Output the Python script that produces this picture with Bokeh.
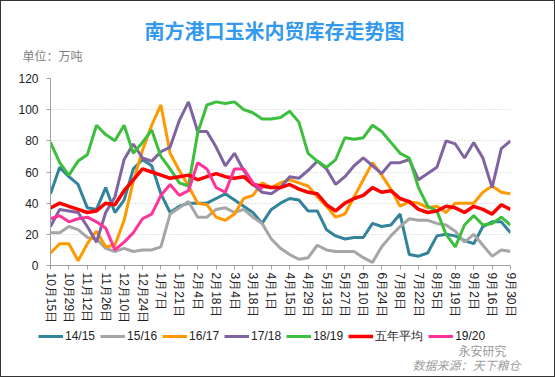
import math
from bokeh.plotting import figure
from bokeh.layouts import column
from bokeh.models import Range1d, FixedTicker, Legend, LegendItem, Label
from bokeh.embed import file_html
from bokeh.resources import INLINE

# ---- data ----
tick_labels = ["10月15日", "10月29日", "11月12日", "11月26日", "12月10日", "12月24日",
               "1月7日", "1月21日", "2月4日", "2月18日", "3月4日", "3月18日", "4月1日",
               "4月15日", "4月29日", "5月13日", "5月27日", "6月10日", "6月24日", "7月8日",
               "7月22日", "8月5日", "8月19日", "9月2日", "9月16日", "9月30日"]
tick_days = list(range(0, 351, 14))
days = list(range(0, 351, 7))   # weekly readings, day offset from 10月15日

s_1415 = [46, 63, 57, 52, 37, 36, 50, 34, 42, 62, 68, 64, 46, 34, 38, 40, 40, 40, 43, 46,
          42, 38, 34, 27, 36, 40, 43, 42, 35, 35, 23, 19, 17, 18, 18, 27, 25, 26, 33, 7,
          6, 8, 19, 20, 19, 16, 14, 25, 28, 28, 21]
s_1516 = [21, 21, 25, 23, 18, 17, 11, 9, 11, 9, 10, 10, 12, 33, 37, 41, 31, 31, 36, 37,
          34, 36, 31, 27, 17, 11, 7, 4, 5, 13, 10, 9, 9, 9, 5, 2, 12, 19, 25, 30,
          29, 29, 27, 26, 22, 15, 20, 13, 6, 10, 9]
s_1617 = [8, 14, 14, 3, 14, 22, 12, 13, 29, 54, 74, 90, 103, 72, 61, 51, 40, 39, 31, 29,
          33, 43, 45, 53, 50, 53, 55, 53, 51, 44, 38, 31, 33, 44, 55, 66, 58, 49, 38, 41,
          40, 37, 38, 34, 40, 40, 40, 47, 51, 47, 46]
s_1718 = [25, 36, 35, 34, 25, 15, 34, 44, 68, 78, 69, 67, 73, 76, 93, 105, 86, 86, 76, 64,
          72, 61, 52, 47, 46, 50, 57, 56, 61, 67, 62, 52, 57, 64, 69, 64, 59, 66, 66, 68,
          55, 59, 63, 80, 78, 69, 79, 69, 50, 75, 80]
s_1819 = [79, 66, 58, 67, 71, 90, 84, 80, 90, 72, 79, 87, 70, 62, 53, 51, 85, 103, 105, 104,
          105, 100, 98, 94, 94, 95, 99, 92, 72, 67, 63, 68, 82, 81, 82, 90, 86, 79, 72, 69,
          50, 38, 35, 20, 12, 26, 32, 26, 27, 31, 26]
s_avg = [37, 40, 38, 36, 34, 35, 40, 39, 48, 55, 62, 60, 58, 56, 57, 58, 55, 57, 59, 57,
         56, 57, 52, 51, 50, 50, 52, 49, 47, 46, 39, 35, 40, 43, 45, 50, 47, 48, 43, 41,
         36, 34, 35, 38, 37, 34, 38, 36, 33, 39, 36]
nan = float("nan")
s_1920 = [30, 32, 28, 30, 31, 28, 24, 10, 15, 21, 30, 33, 45, 52, 45, 48, 66, 62, 50, 47,
          62, 62, 53, 49] + [nan] * 27

series = [
    ("14/15", s_1415, "#31849B", 3),
    ("15/16", s_1516, "#A6A6A6", 3),
    ("16/17", s_1617, "#FF9900", 3),
    ("17/18", s_1718, "#8064A2", 3),
    ("18/19", s_1819, "#3CBF3C", 3),
    ("五年平均", s_avg, "#FF0000", 3.5),
    ("19/20", s_1920, "#FF3399", 3),
]


def strip(h, yr):
    f = figure(width=553, height=h, output_backend="svg", toolbar_location=None,
               x_range=Range1d(0, 553), y_range=Range1d(0, yr),
               min_border=0, min_border_left=0, min_border_right=0,
               min_border_top=0, min_border_bottom=0)
    f.axis.visible = False
    f.grid.visible = False
    f.outline_line_color = None
    f.background_fill_color = "white"
    f.border_fill_color = "white"
    f.frame_align = False
    return f


# ---- header strip (title and unit) ----
hd = strip(70, 70)
hd.add_layout(Label(x=273, y=41, text="南方港口玉米内贸库存走势图", text_align="center",
                    text_baseline="middle", text_font="Noto Sans CJK SC",
                    text_font_size="20px", text_font_style="bold",
                    text_color="#3399EE"))
hd.add_layout(Label(x=21, y=16, text="单位：万吨", text_align="left",
                    text_baseline="middle", text_font="Noto Sans CJK SC",
                    text_font_size="12px", text_color="#7F7F7F"))

# ---- main chart ----
p = figure(width=553, height=255, output_backend="svg", toolbar_location=None,
           x_range=Range1d(0, 350), y_range=Range1d(0, 120),
           min_border_left=49, min_border_right=44, min_border_top=7,
           min_border_bottom=60)
p.frame_align = False
p.outline_line_color = None
p.background_fill_color = "white"
p.border_fill_color = "white"

for name, vals, color, lw in series:
    p.line(days, vals, line_color=color, line_width=lw)

p.xaxis.ticker = FixedTicker(ticks=tick_days)
p.xaxis.major_label_overrides = {d: t for d, t in zip(tick_days, tick_labels)}
p.xaxis.major_label_orientation = -math.pi / 2
p.yaxis.ticker = FixedTicker(ticks=[0, 20, 40, 60, 80, 100, 120])
for ax in (p.xaxis, p.yaxis):
    ax.axis_line_color = "#A0A0A0"
    ax.major_tick_line_color = "#A0A0A0"
    ax.minor_tick_line_color = None
    ax.major_tick_in = 0
    ax.major_tick_out = 4
    ax.major_label_text_font = "Liberation Sans"
    ax.major_label_text_font_size = "12px"
    ax.major_label_text_color = "#222222"
p.yaxis.major_label_standoff = 8
p.xaxis.major_label_standoff = 3

p.xgrid.visible = False
p.ygrid.grid_line_color = "#C8C8C8"
p.ygrid.grid_line_dash = "1 2"
p.ygrid.grid_line_width = 1

# ---- legend strip ----
lg = strip(50, 50)
items = []
for name, vals, color, lw in series:
    # legend proxy: a single missing point, so nothing is drawn in the strip
    r = lg.line([nan], [nan], line_color=color, line_width=lw)
    items.append(LegendItem(label=name, renderers=[r]))

legend = Legend(items=items, orientation="horizontal", location=(37, 31),
                glyph_width=25, glyph_height=18, label_height=18, label_standoff=2,
                spacing=5, padding=0, margin=0, border_line_color=None,
                background_fill_alpha=0,
                label_text_font="Liberation Sans", label_text_font_size="12px",
                label_text_color="#222222")
lg.add_layout(legend, "center")

lg.add_layout(Label(x=457, y=26, text="永安研究", text_align="left",
                    text_baseline="middle", text_font="Noto Sans CJK SC",
                    text_font_size="12px", text_color="#8C8C8C", text_alpha=0.9))
lg.add_layout(Label(x=411, y=12, text="数据来源：天下粮仓", text_align="left",
                    text_baseline="middle", text_font="Noto Sans CJK SC",
                    text_font_size="12px", text_font_style="italic",
                    text_color="#8A8A8A", text_alpha=0.85))

layout = column(hd, p, lg, spacing=0, styles={"border": "1px solid #333"})

open("out.html", "w").write(file_html(layout, INLINE))
